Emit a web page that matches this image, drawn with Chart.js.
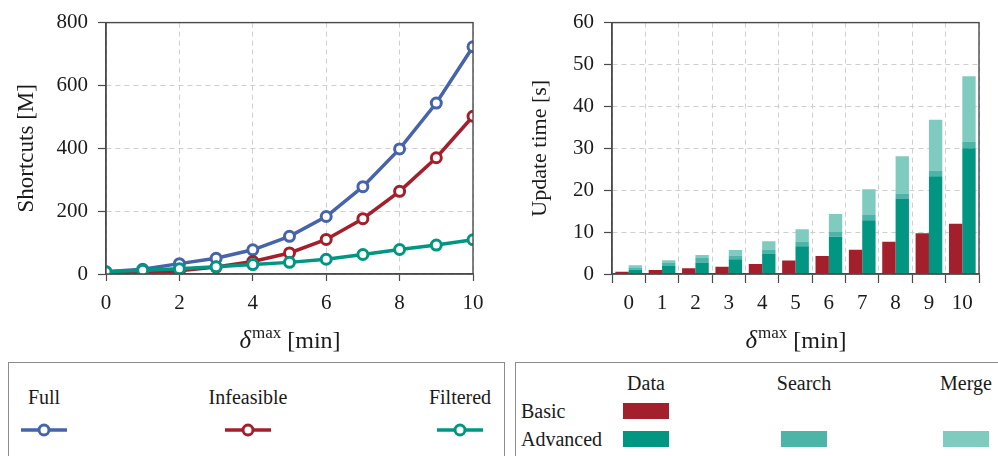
<!DOCTYPE html>
<html>
<head>
<meta charset="utf-8">
<script src="https://cdn.jsdelivr.net/npm/chart.js@4.4.1/dist/chart.umd.min.js"></script>
<style>
  body { margin: 0; background: #fff; font-family: "Liberation Serif", serif; color: #1a1a1a; }
  #page { position: relative; width: 998px; height: 456px; overflow: hidden; }
  .cv { position: absolute; top: 0; }
  .box { position: absolute; top: 362px; height: 120px; border: 1.5px solid #8c8c8c; box-sizing: border-box; }
  .t { position: absolute; font-size: 20px; white-space: nowrap; transform: translate(-50%, -50%); }
  .tl { position: absolute; font-size: 20px; white-space: nowrap; transform: translateY(-50%); }
  .sw { position: absolute; width: 46px; height: 16px; }
  .mk { position: absolute; }
</style>
</head>
<body>
<div id="page">
  <canvas id="chart-lines" class="cv" style="left:0" width="500" height="360"></canvas>
  <canvas id="chart-bars" class="cv" style="left:500px" width="498" height="360"></canvas>
  <div id="legend-lines"></div>
  <div id="legend-bars"></div>
</div>
<script>
// Dos gráficos: atajos (líneas) y tiempo de actualización (barras apiladas).

const DELTA = [0, 1, 2, 3, 4, 5, 6, 7, 8, 9, 10];
const FULL = [7, 15, 33, 50, 77, 120, 183, 278, 398, 544, 723];
const INFEASIBLE = [0, 2, 10, 22, 40, 67, 110, 176, 263, 370, 502];
const FILTERED = [7, 12, 17, 23, 30, 37, 47, 62, 78, 92, 109];

const BAR_LABELS = ["0", "1", "2", "3", "4", "5", "6", "7", "8", "9", "10"];
const BASIC_DATA = [0.55, 0.95, 1.35, 1.75, 2.4, 3.2, 4.3, 5.8, 7.7, 9.7, 12.0];
const ADV_DATA = [1.0, 1.9, 2.75, 3.5, 4.9, 6.6, 8.9, 12.8, 18.0, 23.3, 30.0];
const ADV_SEARCH = [0.55, 0.7, 1.05, 0.9, 0.95, 1.15, 1.15, 1.3, 1.2, 1.4, 1.65];
const ADV_MERGE = [0.55, 0.7, 0.75, 1.35, 1.95, 2.95, 4.25, 6.1, 8.9, 12.1, 15.55];

const COLORS = {
  blue: "#4664aa", red: "#a31f2c", green: "#009682",
  search: "#4db5a7", merge: "#80cbc0",
};
const FONT = "'Liberation Serif', serif";
const GRID = "#cfcfcf";
const AXIS = "#4a4a4a";

Chart.defaults.font.family = FONT;
Chart.defaults.color = "#1a1a1a";
Chart.defaults.animation = false;

// marco completo alrededor del área del gráfico
const frame = {
  id: "frame",
  afterDatasetsDraw(chart) {
    const { ctx, chartArea: a } = chart;
    ctx.save();
    ctx.strokeStyle = AXIS;
    ctx.lineWidth = 1.4;
    ctx.strokeRect(a.left, a.top, a.right - a.left, a.bottom - a.top);
    ctx.restore();
  },
};

// título del eje x con superíndice: δ^max [min]
const xTitle = {
  id: "xTitle",
  afterDraw(chart) {
    const { ctx, chartArea: a } = chart;
    const big = "24px " + FONT, bigIt = "italic 25px " + FONT, small = "17px " + FONT;
    ctx.save();
    ctx.fillStyle = "#1a1a1a";
    ctx.textBaseline = "alphabetic";
    ctx.font = bigIt; const w1 = ctx.measureText("δ").width;
    ctx.font = small; const w2 = ctx.measureText("max").width;
    ctx.font = big; const w3 = ctx.measureText(" [min]").width;
    let x = (a.left + a.right) / 2 - (w1 + w2 + w3) / 2;
    const y = 348;
    ctx.font = bigIt; ctx.fillText("δ", x, y); x += w1 + 1;
    ctx.font = small; ctx.fillText("max", x, y - 10); x += w2;
    ctx.font = big; ctx.fillText(" [min]", x, y);
    ctx.restore();
  },
};

function gridOpts(tickLen) {
  return {
    color: GRID, lineWidth: 1,
    tickLength: tickLen, tickColor: AXIS, tickBorderDash: [], tickWidth: 1.2,
  };
}
// en Chart.js v4 el trazo discontinuo de la rejilla sale de border.dash
const BORDER = { color: AXIS, width: 1.4, dash: [5, 4] };

function lineSet(label, data, color, order) {
  return {
    label, data, order,
    borderColor: color, backgroundColor: "#fff",
    borderWidth: 3.5, pointRadius: 5, pointBorderWidth: 3,
    pointBackgroundColor: "#fff", pointBorderColor: color, tension: 0,
  };
}

new Chart(document.getElementById("chart-lines"), {
  type: "line",
  data: {
    labels: DELTA,
    datasets: [
      lineSet("Full", FULL, COLORS.blue, 2),
      lineSet("Infeasible", INFEASIBLE, COLORS.red, 1),
      lineSet("Filtered", FILTERED, COLORS.green, 0),
    ],
  },
  options: {
    responsive: false,
    layout: { padding: { top: 16, right: 27, left: 0, bottom: 0 } },
    plugins: { legend: { display: false }, tooltip: { enabled: false } },
    scales: {
      x: {
        type: "linear", min: 0, max: 10,
        ticks: { stepSize: 2, padding: 10, font: { size: 21 } },
        grid: gridOpts(7),
        border: BORDER,
        afterFit: (s) => { s.height = 86; },
      },
      y: {
        min: 0, max: 800,
        ticks: { stepSize: 200, padding: 10, font: { size: 21 } },
        grid: gridOpts(8),
        border: BORDER,
        title: { display: true, text: "Shortcuts [M]", font: { size: 23 }, padding: { top: 13, bottom: 0 } },
        afterFit: (s) => { s.width = 106; },
      },
    },
  },
  plugins: [frame, xTitle],
});

function barSet(label, data, color, stack) {
  return {
    label, data, stack, backgroundColor: color,
    borderWidth: 0, barPercentage: 1, categoryPercentage: 0.8,
  };
}

new Chart(document.getElementById("chart-bars"), {
  type: "bar",
  data: {
    labels: BAR_LABELS,
    datasets: [
      barSet("Basic – Data", BASIC_DATA, COLORS.red, "basic"),
      barSet("Advanced – Data", ADV_DATA, COLORS.green, "adv"),
      barSet("Advanced – Search", ADV_SEARCH, COLORS.search, "adv"),
      barSet("Advanced – Merge", ADV_MERGE, COLORS.merge, "adv"),
    ],
  },
  options: {
    responsive: false,
    layout: { padding: { top: 16, right: 19, left: 0, bottom: 0 } },
    plugins: { legend: { display: false }, tooltip: { enabled: false } },
    scales: {
      x: {
        stacked: true,
        ticks: { padding: 8, font: { size: 21 } },
        grid: Object.assign(gridOpts(9), { offset: true }),
        border: BORDER,
        afterFit: (s) => { s.height = 86; },
      },
      y: {
        stacked: true, min: 0, max: 60,
        ticks: { stepSize: 10, padding: 10, font: { size: 21 } },
        grid: gridOpts(8),
        border: BORDER,
        title: { display: true, text: "Update time [s]", font: { size: 22 }, padding: { top: 27, bottom: 0 } },
        afterFit: (s) => { s.width = 112; },
      },
    },
  },
  plugins: [frame, xTitle],
});

// Leyendas en HTML, debajo de cada gráfico
function el(parent, cls, css, text) {
  const d = document.createElement("div");
  d.className = cls;
  Object.assign(d.style, css);
  if (text) d.textContent = text;
  parent.appendChild(d);
  return d;
}

function lineSample(parent, cx, cy, color) {
  const svg = `<svg width="48" height="16" viewBox="0 0 48 16">
    <line x1="1" y1="8" x2="47" y2="8" stroke="${color}" stroke-width="3.5"/>
    <circle cx="24" cy="8" r="5" fill="#fff" stroke="${color}" stroke-width="3"/></svg>`;
  const d = el(parent, "mk", { left: cx - 24 + "px", top: cy - 8 + "px" });
  d.innerHTML = svg;
}

const legL = document.getElementById("legend-lines");
el(legL, "box", { left: "8px", width: "497px" });
const LINE_ITEMS = [["Full", 44, COLORS.blue], ["Infeasible", 248, COLORS.red], ["Filtered", 460, COLORS.green]];
for (const [name, cx, color] of LINE_ITEMS) {
  el(legL, "t", { left: cx + "px", top: "397px" }, name);
  lineSample(legL, cx, 430, color);
}

const legR = document.getElementById("legend-bars");
el(legR, "box", { left: "515px", width: "500px" });
el(legR, "t", { left: "646px", top: "383px" }, "Data");
el(legR, "t", { left: "804px", top: "383px" }, "Search");
el(legR, "t", { left: "966px", top: "383px" }, "Merge");
el(legR, "tl", { left: "521px", top: "411px" }, "Basic");
el(legR, "tl", { left: "521px", top: "439px" }, "Advanced");
el(legR, "sw", { left: "623px", top: "403px", background: COLORS.red });
el(legR, "sw", { left: "623px", top: "431px", background: COLORS.green });
el(legR, "sw", { left: "781px", top: "431px", background: COLORS.search });
el(legR, "sw", { left: "943px", top: "431px", background: COLORS.merge });
</script>
</body>
</html>
